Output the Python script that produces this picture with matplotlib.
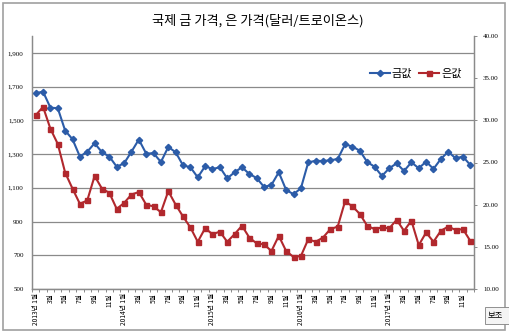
import matplotlib
matplotlib.use("Agg")
import matplotlib.pyplot as plt
from matplotlib.patches import Rectangle
from matplotlib.ticker import FuncFormatter, FixedLocator

plt.rcParams['font.family'] = ['Noto Sans CJK KR', 'DejaVu Sans']

years = [2013, 2014, 2015, 2016, 2017]
months = list(range(1, 13))
categories = [f"{y}년 {m}월" for y in years for m in months]
tick_labels = [(f"{y}년 {m}월" if m == 1 else f"{m}월") if m % 2 == 1 else "" for y in years for m in months]

gold = [1661, 1670, 1575, 1572, 1439, 1388, 1285, 1314, 1364, 1311, 1285, 1225,
        1245, 1314, 1386, 1303, 1305, 1253, 1342, 1311, 1233, 1222, 1162, 1228,
        1211, 1222, 1156, 1192, 1222, 1182, 1158, 1105, 1117, 1192, 1087, 1062,
        1097, 1251, 1260, 1259, 1263, 1271, 1358, 1344, 1320, 1253, 1225, 1170,
        1216, 1245, 1200, 1251, 1216, 1255, 1212, 1271, 1314, 1275, 1285, 1235]

silver = [30.6, 31.6, 29.0, 27.2, 23.8, 21.9, 20.1, 20.5, 23.4, 21.9, 21.4, 19.5,
          20.2, 21.2, 21.5, 20.0, 19.8, 19.1, 21.6, 20.0, 18.6, 17.3, 15.6, 17.2,
          16.5, 16.8, 15.6, 16.5, 17.5, 16.1, 15.4, 15.3, 14.5, 16.3, 14.5, 13.8,
          13.9, 15.9, 15.6, 16.1, 17.1, 17.4, 20.4, 19.8, 18.9, 17.5, 17.1, 17.3,
          17.2, 18.2, 16.9, 18.1, 15.2, 16.7, 15.6, 16.9, 17.4, 17.0, 17.1, 15.7]

W, H = 510, 336
fig = plt.figure(figsize=(W / 100, H / 100), dpi=100)
fig.patch.set_facecolor('white')

# outer chart border
fig.patches.append(Rectangle((3 / W, 1 - 330 / H), 502 / W, 327 / H,
                             transform=fig.transFigure, fill=False,
                             edgecolor='#a0a0a0', linewidth=1.2))

ax = fig.add_axes([32 / W, 1 - 289 / H, 442 / W, 253 / H])
ax2 = ax.twinx()

x = list(range(len(categories)))
blue = '#2C5CA8'
red = '#B1282D'

ax.plot(x, gold, color=blue, lw=1.5, marker='D', ms=3.2, mec=blue, mfc=blue,
        label='금값', zorder=3)
ax2.plot(x, silver, color=red, lw=1.5, marker='s', ms=3.6, mec=red, mfc=red,
         label='은값', zorder=3)

ax.set_xlim(-0.5, len(categories) - 0.5)
ax.set_ylim(500, 2000)
ax2.set_ylim(10, 40)

ax.yaxis.set_major_locator(FixedLocator(list(range(500, 2000, 200))))
ax.yaxis.set_major_formatter(FuncFormatter(lambda v, p: f"{int(v):,}"))
ax.grid(axis='y', color='#8a8a8a', lw=0.9)
ax.set_axisbelow(True)

ax2.yaxis.set_major_locator(FixedLocator(list(range(10, 41, 5))))
ax2.yaxis.set_major_formatter(FuncFormatter(lambda v, p: f"{v:.2f}"))

for a in (ax, ax2):
    a.spines['top'].set_visible(False)
    for s in ('left', 'right', 'bottom'):
        a.spines[s].set_color('#8a8a8a')
        a.spines[s].set_linewidth(0.9)

ax.tick_params(axis='y', length=0, pad=6, labelsize=5, labelfontfamily='Liberation Serif')
ax2.tick_params(axis='y', length=2.5, width=0.7, color='#8a8a8a', pad=4, labelsize=5,
                labelfontfamily='Liberation Serif')

ax.set_xticks(x)
ax.set_xticklabels(tick_labels, rotation=90, fontsize=4.8, va='top')
ax.set_xticks([i - 0.5 for i in range(len(categories) + 1)], minor=True)
ax.tick_params(axis='x', which='major', length=0, pad=3)
ax.tick_params(axis='x', which='minor', length=2.5, width=0.7, color='#8a8a8a')

h1, l1 = ax.get_legend_handles_labels()
h2, l2 = ax2.get_legend_handles_labels()
ax2.legend(h1 + h2, l1 + l2, loc='upper right', bbox_to_anchor=(0.995, 0.91),
           ncol=2, frameon=False, fontsize=8, handlelength=1.8, handletextpad=0.2,
           columnspacing=0.6, prop={'family': ['Noto Sans CJK KR'], 'size': 8})

fig.text(258 / W, 1 - 21 / H, '국제 금 가격, 은 가격(달러/트로이온스)', ha='center',
         va='center', fontsize=9.5)

# tooltip box partly visible at the bottom-right corner
fig.patches.append(Rectangle((485 / W, 1 - 324 / H), 30 / W, 17 / H,
                             transform=fig.transFigure, facecolor='#f4f4f4',
                             edgecolor='#808080', linewidth=0.6))
fig.text(488 / W, 1 - 315.5 / H, '보조', ha='left', va='center', fontsize=6)

fig.savefig('out.png', dpi=100)
